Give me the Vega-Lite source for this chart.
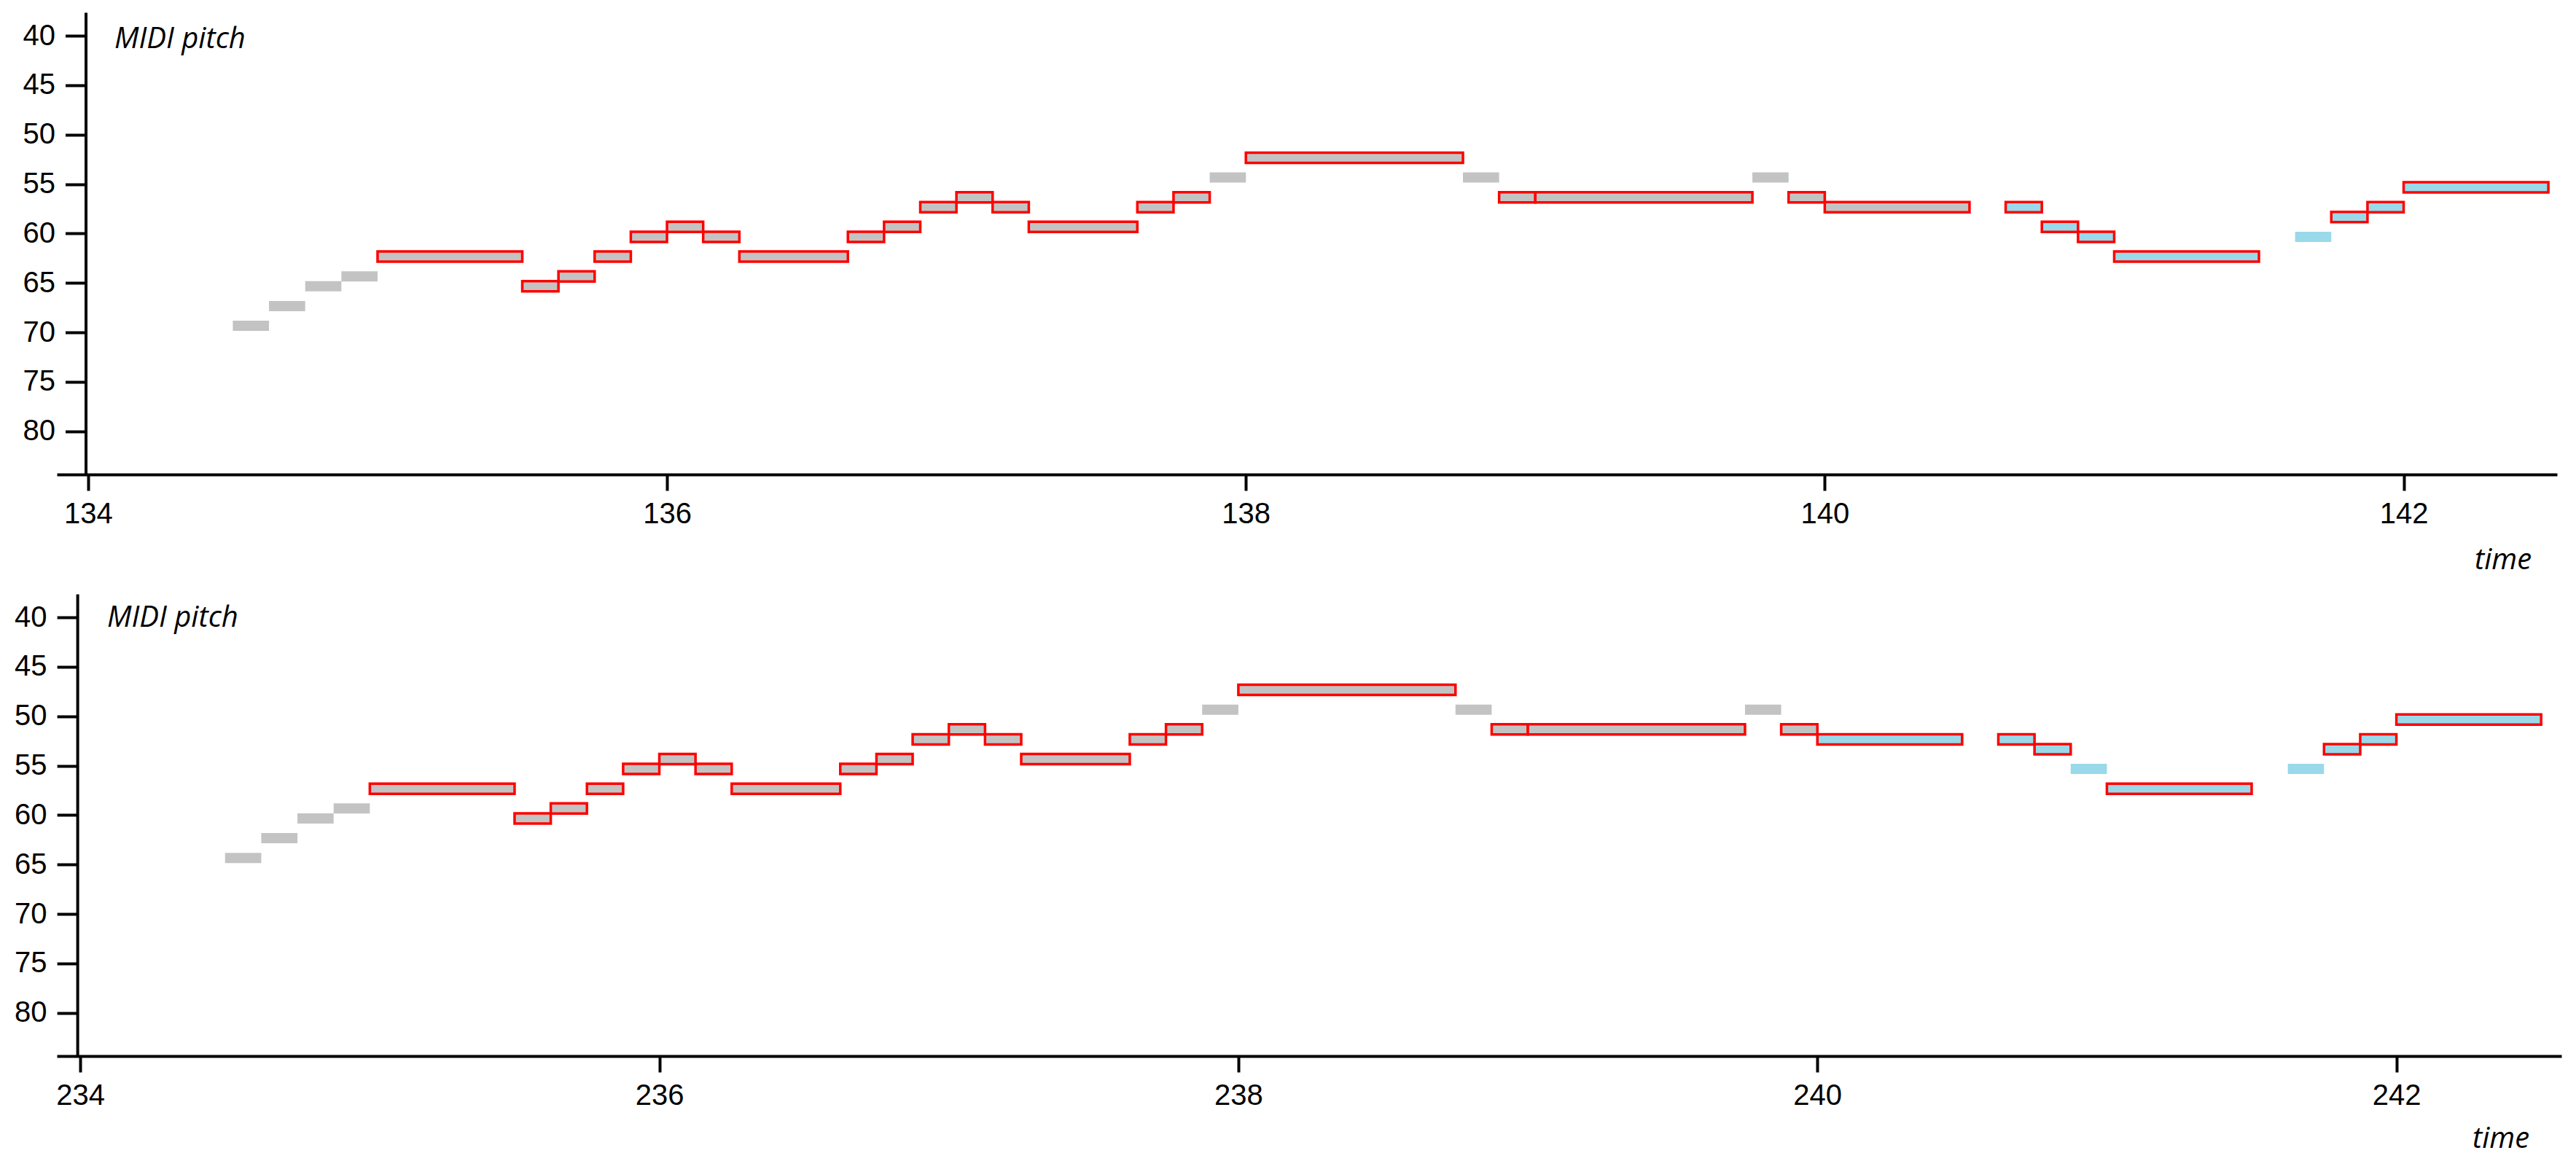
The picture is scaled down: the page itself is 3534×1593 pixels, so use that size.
{
  "$schema": "https://vega.github.io/schema/vega-lite/v6.json",
  "padding": {"left": 19, "top": 17, "right": 5, "bottom": 5},
  "autosize": {"type": "pad"},
  "background": "white",
  "bounds": "flush",
  "spacing": 164,
  "config": {
    "view": {"stroke": null},
    "axis": {
      "domainColor": "black", "tickColor": "black", "labelColor": "black", "titleColor": "black",
      "domainWidth": 4, "tickWidth": 4, "grid": false,
      "labelFont": "Liberation Sans", "labelFontSize": 40,
      "titleFont": "Open Sans", "titleFontSize": 40, "titleFontStyle": "italic", "titleFontWeight": "normal"
    }
  },
  "datasets": {
    "top": [
      {"start": 134.5, "end": 134.625, "pitch": 69, "kind": "base", "outlined": 0},
      {"start": 134.625, "end": 134.75, "pitch": 67, "kind": "base", "outlined": 0},
      {"start": 134.75, "end": 134.875, "pitch": 65, "kind": "base", "outlined": 0},
      {"start": 134.875, "end": 135, "pitch": 64, "kind": "base", "outlined": 0},
      {"start": 135, "end": 135.5, "pitch": 62, "kind": "base", "outlined": 1},
      {"start": 135.5, "end": 135.625, "pitch": 65, "kind": "base", "outlined": 1},
      {"start": 135.625, "end": 135.75, "pitch": 64, "kind": "base", "outlined": 1},
      {"start": 135.75, "end": 135.875, "pitch": 62, "kind": "base", "outlined": 1},
      {"start": 135.875, "end": 136, "pitch": 60, "kind": "base", "outlined": 1},
      {"start": 136, "end": 136.125, "pitch": 59, "kind": "base", "outlined": 1},
      {"start": 136.125, "end": 136.25, "pitch": 60, "kind": "base", "outlined": 1},
      {"start": 136.25, "end": 136.625, "pitch": 62, "kind": "base", "outlined": 1},
      {"start": 136.625, "end": 136.75, "pitch": 60, "kind": "base", "outlined": 1},
      {"start": 136.75, "end": 136.875, "pitch": 59, "kind": "base", "outlined": 1},
      {"start": 136.875, "end": 137, "pitch": 57, "kind": "base", "outlined": 1},
      {"start": 137, "end": 137.125, "pitch": 56, "kind": "base", "outlined": 1},
      {"start": 137.125, "end": 137.25, "pitch": 57, "kind": "base", "outlined": 1},
      {"start": 137.25, "end": 137.625, "pitch": 59, "kind": "base", "outlined": 1},
      {"start": 137.625, "end": 137.75, "pitch": 57, "kind": "base", "outlined": 1},
      {"start": 137.75, "end": 137.875, "pitch": 56, "kind": "base", "outlined": 1},
      {"start": 137.875, "end": 138, "pitch": 54, "kind": "base", "outlined": 0},
      {"start": 138, "end": 138.75, "pitch": 52, "kind": "base", "outlined": 1},
      {"start": 138.75, "end": 138.875, "pitch": 54, "kind": "base", "outlined": 0},
      {"start": 138.875, "end": 139, "pitch": 56, "kind": "base", "outlined": 1},
      {"start": 139, "end": 139.75, "pitch": 56, "kind": "base", "outlined": 1},
      {"start": 139.75, "end": 139.875, "pitch": 54, "kind": "base", "outlined": 0},
      {"start": 139.875, "end": 140, "pitch": 56, "kind": "base", "outlined": 1},
      {"start": 140, "end": 140.5, "pitch": 57, "kind": "base", "outlined": 1},
      {"start": 140.625, "end": 140.75, "pitch": 57, "kind": "alt", "outlined": 1},
      {"start": 140.75, "end": 140.875, "pitch": 59, "kind": "alt", "outlined": 1},
      {"start": 140.875, "end": 141, "pitch": 60, "kind": "alt", "outlined": 1},
      {"start": 141, "end": 141.5, "pitch": 62, "kind": "alt", "outlined": 1},
      {"start": 141.625, "end": 141.75, "pitch": 60, "kind": "alt", "outlined": 0},
      {"start": 141.75, "end": 141.875, "pitch": 58, "kind": "alt", "outlined": 1},
      {"start": 141.875, "end": 142, "pitch": 57, "kind": "alt", "outlined": 1},
      {"start": 142, "end": 142.5, "pitch": 55, "kind": "alt", "outlined": 1}
    ],
    "bottom": [
      {"start": 234.5, "end": 234.625, "pitch": 64, "kind": "base", "outlined": 0},
      {"start": 234.625, "end": 234.75, "pitch": 62, "kind": "base", "outlined": 0},
      {"start": 234.75, "end": 234.875, "pitch": 60, "kind": "base", "outlined": 0},
      {"start": 234.875, "end": 235, "pitch": 59, "kind": "base", "outlined": 0},
      {"start": 235, "end": 235.5, "pitch": 57, "kind": "base", "outlined": 1},
      {"start": 235.5, "end": 235.625, "pitch": 60, "kind": "base", "outlined": 1},
      {"start": 235.625, "end": 235.75, "pitch": 59, "kind": "base", "outlined": 1},
      {"start": 235.75, "end": 235.875, "pitch": 57, "kind": "base", "outlined": 1},
      {"start": 235.875, "end": 236, "pitch": 55, "kind": "base", "outlined": 1},
      {"start": 236, "end": 236.125, "pitch": 54, "kind": "base", "outlined": 1},
      {"start": 236.125, "end": 236.25, "pitch": 55, "kind": "base", "outlined": 1},
      {"start": 236.25, "end": 236.625, "pitch": 57, "kind": "base", "outlined": 1},
      {"start": 236.625, "end": 236.75, "pitch": 55, "kind": "base", "outlined": 1},
      {"start": 236.75, "end": 236.875, "pitch": 54, "kind": "base", "outlined": 1},
      {"start": 236.875, "end": 237, "pitch": 52, "kind": "base", "outlined": 1},
      {"start": 237, "end": 237.125, "pitch": 51, "kind": "base", "outlined": 1},
      {"start": 237.125, "end": 237.25, "pitch": 52, "kind": "base", "outlined": 1},
      {"start": 237.25, "end": 237.625, "pitch": 54, "kind": "base", "outlined": 1},
      {"start": 237.625, "end": 237.75, "pitch": 52, "kind": "base", "outlined": 1},
      {"start": 237.75, "end": 237.875, "pitch": 51, "kind": "base", "outlined": 1},
      {"start": 237.875, "end": 238, "pitch": 49, "kind": "base", "outlined": 0},
      {"start": 238, "end": 238.75, "pitch": 47, "kind": "base", "outlined": 1},
      {"start": 238.75, "end": 238.875, "pitch": 49, "kind": "base", "outlined": 0},
      {"start": 238.875, "end": 239, "pitch": 51, "kind": "base", "outlined": 1},
      {"start": 239, "end": 239.75, "pitch": 51, "kind": "base", "outlined": 1},
      {"start": 239.75, "end": 239.875, "pitch": 49, "kind": "base", "outlined": 0},
      {"start": 239.875, "end": 240, "pitch": 51, "kind": "base", "outlined": 1},
      {"start": 240, "end": 240.5, "pitch": 52, "kind": "alt", "outlined": 1},
      {"start": 240.625, "end": 240.75, "pitch": 52, "kind": "alt", "outlined": 1},
      {"start": 240.75, "end": 240.875, "pitch": 53, "kind": "alt", "outlined": 1},
      {"start": 240.875, "end": 241, "pitch": 55, "kind": "alt", "outlined": 0},
      {"start": 241, "end": 241.5, "pitch": 57, "kind": "alt", "outlined": 1},
      {"start": 241.625, "end": 241.75, "pitch": 55, "kind": "alt", "outlined": 0},
      {"start": 241.75, "end": 241.875, "pitch": 53, "kind": "alt", "outlined": 1},
      {"start": 241.875, "end": 242, "pitch": 52, "kind": "alt", "outlined": 1},
      {"start": 242, "end": 242.5, "pitch": 50, "kind": "alt", "outlined": 1}
    ]
  },
  "vconcat": [
    {
      "width": 3430,
      "height": 634,
      "data": {"name": "top"},
      "mark": {"type": "bar", "size": 14, "yOffset": 4.5, "stroke": "#ff0000", "strokeWidth": 3.5},
      "encoding": {
        "x": {
          "field": "start", "type": "quantitative",
          "scale": {"domain": [133.892, 142.53], "nice": false, "zero": false},
          "axis": {"values": [134, 136, 138, 140, 142], "format": "d", "tickSize": 22, "labelPadding": 12,
                   "title": "time", "titleX": 3316.5, "titleY": 129.6, "titleAlign": "left", "titleBaseline": "alphabetic"}
        },
        "x2": {"field": "end"},
        "y": {
          "field": "pitch", "type": "quantitative",
          "scale": {"domain": [38, 84], "reverse": true, "nice": false, "zero": false},
          "axis": {"values": [40, 45, 50, 55, 60, 65, 70, 75, 80], "tickSize": 28, "labelPadding": 14, "offset": -39.5,
                   "title": "MIDI pitch", "titleAngle": 0, "titleX": 39, "titleY": 48.7, "titleAlign": "left", "titleBaseline": "alphabetic"}
        },
        "fill": {"field": "kind", "type": "nominal", "scale": {"domain": ["base", "alt"], "range": ["#c3c3c3", "#99d9ea"]}, "legend": null},
        "strokeOpacity": {"condition": {"test": "datum.outlined == 1", "value": 1}, "value": 0}
      }
    },
    {
      "width": 3436,
      "height": 634,
      "data": {"name": "bottom"},
      "mark": {"type": "bar", "size": 14, "yOffset": 4.5, "stroke": "#ff0000", "strokeWidth": 3.5},
      "encoding": {
        "x": {
          "field": "start", "type": "quantitative",
          "scale": {"domain": [233.919, 242.57], "nice": false, "zero": false},
          "axis": {"values": [234, 236, 238, 240, 242], "format": "d", "tickSize": 22, "labelPadding": 12,
                   "title": "time", "titleX": 3313.5, "titleY": 125, "titleAlign": "left", "titleBaseline": "alphabetic"}
        },
        "x2": {"field": "end"},
        "y": {
          "field": "pitch", "type": "quantitative",
          "scale": {"domain": [38, 84], "reverse": true, "nice": false, "zero": false},
          "axis": {"values": [40, 45, 50, 55, 60, 65, 70, 75, 80], "tickSize": 28, "labelPadding": 14, "offset": -28.1,
                   "title": "MIDI pitch", "titleAngle": 0, "titleX": 40.4, "titleY": 44.7, "titleAlign": "left", "titleBaseline": "alphabetic"}
        },
        "fill": {"field": "kind", "type": "nominal", "scale": {"domain": ["base", "alt"], "range": ["#c3c3c3", "#99d9ea"]}, "legend": null},
        "strokeOpacity": {"condition": {"test": "datum.outlined == 1", "value": 1}, "value": 0}
      }
    }
  ]
}
